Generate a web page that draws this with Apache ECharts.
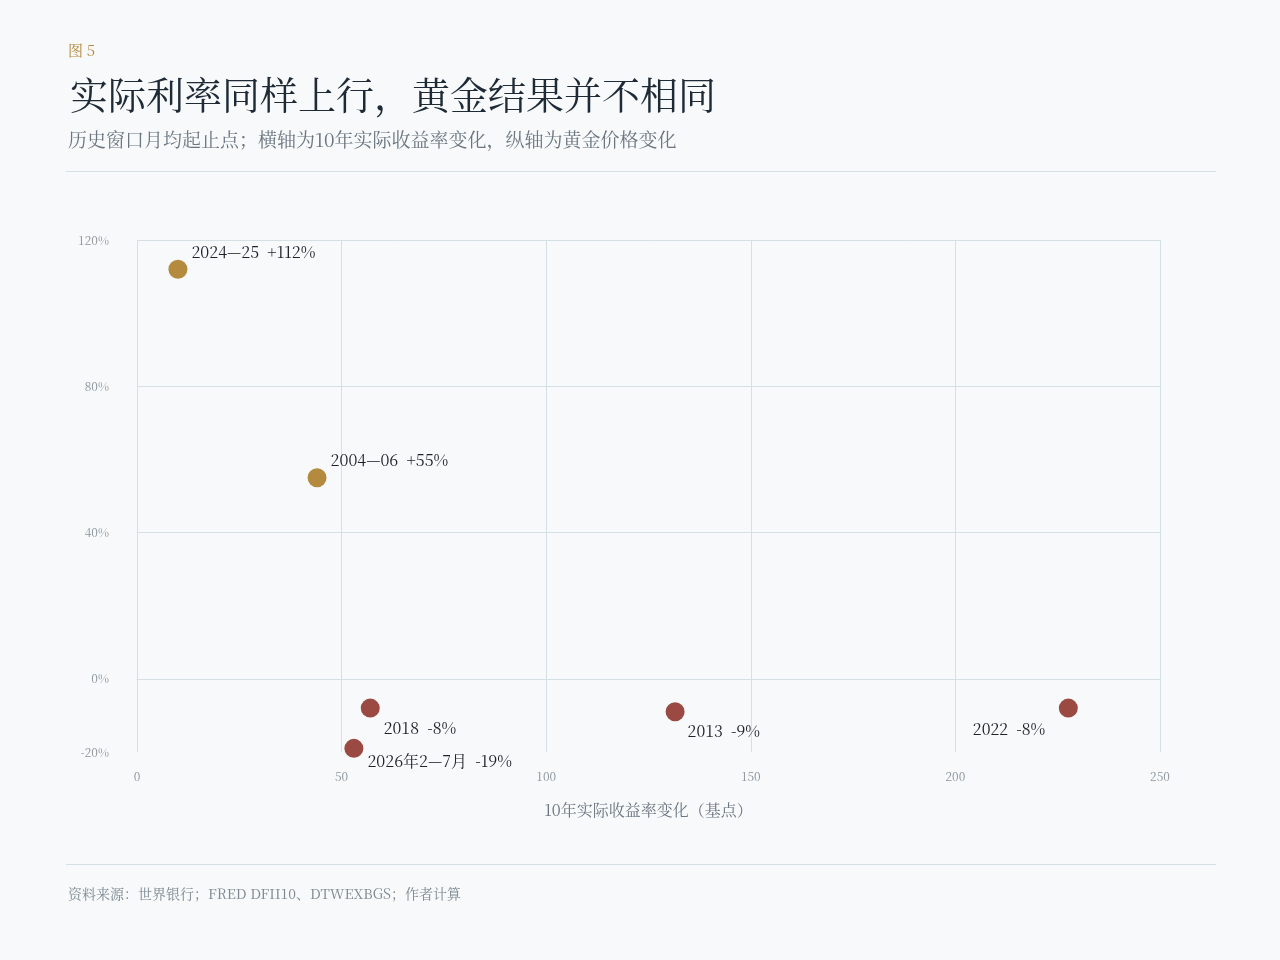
<!DOCTYPE html>
<html><head><meta charset="utf-8">
<script src="https://cdn.jsdelivr.net/npm/echarts@6/dist/echarts.min.js"></script>
<style>html,body{margin:0;background:#f7f9fa}#c{width:1280px;height:960px}</style>
</head><body><div id="c"></div>
<script>
const names = ['2024—25','2004—06','2018','2026年2—7月','2013','2022'];
const xChange = [10, 44, 57, 53, 131.5, 227.6];
const goldChange = [112, 55, -8, -19, -9, -8];
const labelText = ['2024—25  +112%','2004—06  +55%','2018  -8%','2026年2—7月  -19%','2013  -9%','2022  -8%'];
const colors = ['#b48a3e','#b48a3e','#9a4a42','#9a4a42','#9a4a42','#9a4a42'];
const labelPos = [[23,-16],[23,-16],[23,21],[23,14],[22,21],[-86,22]];
const yTicks = [-20, 0, 40, 80, 120];
const F = '"Noto Serif CJK SC","Liberation Serif","Noto Sans CJK SC",serif';
const grid = '#d5e0e4';
const chart = echarts.init(document.getElementById('c'));
chart.setOption({
  backgroundColor:'#f7f9fa',
  textStyle:{fontFamily:F},
  graphic:[
    {type:'text',left:68,top:43,style:{text:'图 5',fill:'#b48a3e',font:'15px '+F,letterSpacing:2}},
    {type:'text',left:70,top:76,style:{text:'实际利率同样上行，黄金结果并不相同',fill:'#1e2a36',font:'38px '+F,letterSpacing:7}},
    {type:'text',left:68,top:130,style:{text:'历史窗口月均起止点；横轴为10年实际收益率变化，纵轴为黄金价格变化',fill:'#6b7680',font:'19px '+F,letterSpacing:3.2}},
    {type:'rect',shape:{x:66,y:171,width:1150,height:1},style:{fill:'#d5e0e4'}},
    {type:'rect',shape:{x:66,y:864,width:1150,height:1},style:{fill:'#d5e0e4'}},
    {type:'text',left:68,top:887,style:{text:'资料来源：世界银行；FRED DFII10、DTWEXBGS；作者计算',fill:'#7d8891',font:'14px '+F,letterSpacing:1}}
  ],
  grid:{left:137,right:120,top:240,bottom:208},
  xAxis:{type:'value',min:0,max:250,interval:50,
    name:'10年实际收益率变化（基点）',nameLocation:'middle',nameGap:50,
    nameTextStyle:{color:'#6b7680',fontSize:16,fontFamily:F,letterSpacing:1.5},
    axisLine:{show:true,lineStyle:{color:grid}},axisTick:{show:false},
    axisLabel:{color:'#8a949c',fontSize:12,margin:18,fontFamily:F},
    splitLine:{show:true,lineStyle:{color:grid}}},
  yAxis:{type:'value',min:-20,max:120,interval:20,
    axisLine:{show:true,lineStyle:{color:grid}},axisTick:{show:false},
    axisLabel:{color:'#8a949c',fontSize:12,margin:28,fontFamily:F,
      formatter:v=>yTicks.includes(v)?v+'%':''},
    splitLine:{show:false}},
  series:[{
    type:'scatter',symbolSize:19,
    data:names.map((n,i)=>({name:n,value:[xChange[i],goldChange[i]],
      itemStyle:{color:colors[i],opacity:1},
      label:{show:true,formatter:labelText[i],position:labelPos[i],color:'#1e2228',fontSize:16,fontFamily:F}})),
    markLine:{silent:true,symbol:'none',label:{show:false},
      lineStyle:{color:grid,type:'solid',width:1},
      data:yTicks.filter(v=>v>-20).map(v=>({yAxis:v}))}
  }]
});
</script></body></html>
